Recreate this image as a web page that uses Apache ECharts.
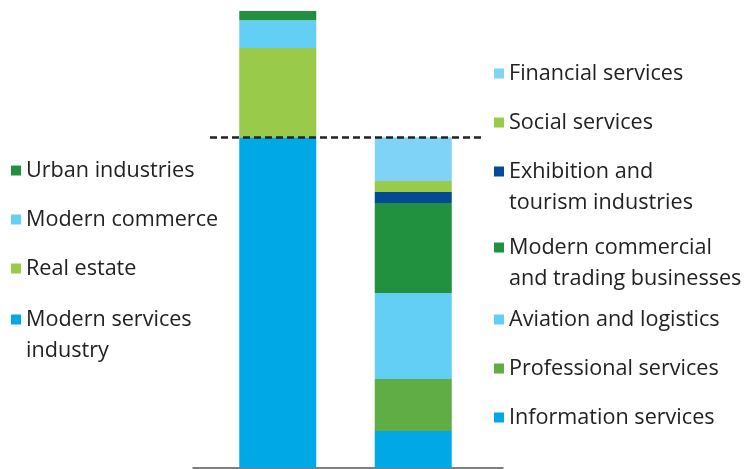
<!DOCTYPE html>
<html>
<head>
<meta charset="utf-8">
<script src="https://cdn.jsdelivr.net/npm/echarts@6/dist/echarts.min.js"></script>
<style>
  html, body { margin: 0; padding: 0; background: #fff; }
  #main { width: 744px; height: 469px; }
</style>
</head>
<body>
<div id="main"></div>
<script>
// two columns: the modern services total and its breakdown (%)
var categories = ['Modern services total', 'Breakdown'];

// left column, bottom to top
var leftNames = ['Modern services industry', 'Real estate', 'Modern commerce', 'Urban industries'];
var leftValues = [72.4, 19.5, 6.1, 2.0];
var leftColors = ['#00a9e6', '#99ca4a', '#64cff5', '#219140'];

// right column, bottom to top
var rightNames = ['Information services', 'Professional services', 'Aviation and logistics',
    'Modern commercial and trading businesses', 'Exhibition and tourism industries',
    'Social services', 'Financial services'];
var rightValues = [8.1, 11.4, 18.8, 19.7, 2.4, 2.4, 9.6];
var rightColors = ['#00a9e6', '#60ad45', '#64cff5', '#219140', '#004b93', '#99ca4a', '#7fd3f6'];

// level of the dashed line = modern services share
var dashLevel = 72.4;

// legend texts (wrapped like the original)
var wrapped = {
    'Modern services industry': ' \nModern services\nindustry',
    'Exhibition and tourism industries': ' \nExhibition and\ntourism industries',
    'Modern commercial and trading businesses': ' \nModern commercial\nand trading businesses'
};

var myChart = echarts.init(document.getElementById('main'));

var series = [];
leftNames.forEach(function (n, i) {
    var s = {
        name: n,
        type: 'bar',
        stack: 'total',
        barWidth: 77,
        itemStyle: { color: leftColors[i] },
        data: [leftValues[i], '-']
    };
    if (i === 0) {
        s.markLine = {
            silent: true,
            symbol: 'none',
            label: { show: false },
            lineStyle: { color: '#222', width: 2.5, type: [7, 4] },
            data: [{ yAxis: dashLevel }]
        };
    }
    series.push(s);
});
rightNames.forEach(function (n, i) {
    series.push({
        name: n,
        type: 'bar',
        stack: 'total',
        barWidth: 77,
        itemStyle: { color: rightColors[i] },
        data: ['-', rightValues[i]]
    });
});

var legendText = {
    fontFamily: 'Open Sans',
    fontSize: 21.6,
    lineHeight: 31,
    color: '#222'
};
function makeLegend(names, left, top) {
    return {
        data: names,
        orient: 'vertical',
        left: left,
        top: top,
        padding: 0,
        itemGap: 18,
        itemWidth: 10,
        itemHeight: 10,
        itemTextGap: 7,
        icon: 'rect',
        selectedMode: false,
        textStyle: legendText,
        formatter: function (name) { return wrapped[name] || name; }
    };
}

option = {
    animation: false,
    backgroundColor: '#fff',
    grid: [
        { left: 210, width: 271, top: 11, bottom: 1 },
        { left: 193, width: 310, top: 11, bottom: 1 }
    ],
    legend: [
        makeLegend(['Urban industries', 'Modern commerce', 'Real estate'], 11, 155),
        makeLegend(['Modern services industry'], 11, 273),
        makeLegend(['Financial services', 'Social services'], 494, 58),
        makeLegend(['Exhibition and tourism industries'], 494, 125),
        makeLegend(['Modern commercial and trading businesses'], 494, 201),
        makeLegend(['Aviation and logistics', 'Professional services', 'Information services'], 494, 304)
    ],
    xAxis: [
        {
            type: 'category',
            gridIndex: 0,
            data: categories,
            axisLine: { show: false },
            axisTick: { show: false },
            axisLabel: { show: false }
        },
        {
            type: 'category',
            gridIndex: 1,
            data: categories,
            axisLine: { show: true, lineStyle: { color: '#555', width: 1.5 } },
            axisTick: { show: false },
            axisLabel: { show: false }
        }
    ],
    yAxis: [
        { type: 'value', gridIndex: 0, min: 0, max: 100, show: false },
        { type: 'value', gridIndex: 1, min: 0, max: 100, show: false }
    ],
    series: series
};

myChart.setOption(option);
</script>
</body>
</html>
